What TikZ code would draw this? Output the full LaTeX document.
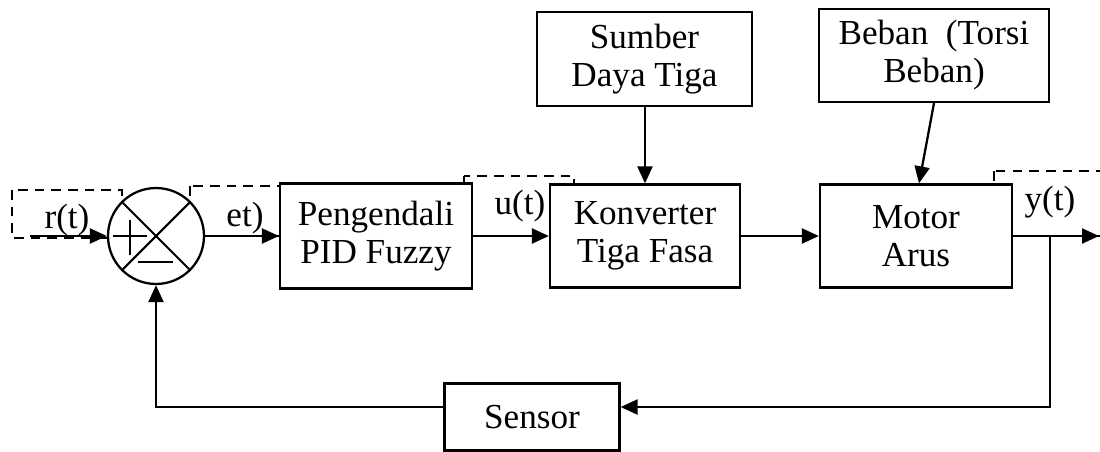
\documentclass[tikz,border=0pt]{standalone}
\usepackage{fontspec}
\setmainfont{Liberation Serif}
\usetikzlibrary{arrows.meta}

\tikzset{
  blok/.style={draw, fill=white, line width=1.3pt, align=center, inner sep=0pt,
    font=\fontsize{20}{21.6}\selectfont},
  sinyal/.style={inner sep=0pt, font=\fontsize{20}{21.6}\selectfont},
  panah/.style={-{Triangle[length=0.34cm,width=0.3cm]}, line width=1.3pt},
  garis/.style={line width=1.2pt},
  kotakputus/.style={line width=1.3pt, dash pattern=on 5.5pt off 4pt}
}

\begin{document}
\begin{tikzpicture}[x=0.02cm,y=-0.02cm]
    % Fixed frame of the picture
    \useasboundingbox (0,0) rectangle (1100,451);

    % Dashed boxes around the signal labels
    \draw[kotakputus] (12,190) rectangle (122,238);
    \draw[kotakputus] (190,186) rectangle (280,236);
    \draw[kotakputus] (464,176) rectangle (574,236);
    \draw[kotakputus] (994,171) rectangle (1110,236);

    % Summing junction
    \node[draw, fill=white, circle, line width=1.3pt, minimum size=1.92cm, inner sep=0pt] (sum) at (156,236) {};
    \draw[garis] (sum.north west) -- (sum.south east);
    \draw[garis] (sum.north east) -- (sum.south west);
    \draw[line width=0.9pt] ([xshift=-0.86cm]sum.center) -- ([xshift=-0.18cm]sum.center);
    \draw[line width=0.9pt] ([xshift=-0.52cm,yshift=0.32cm]sum.center) -- ([xshift=-0.52cm,yshift=-0.38cm]sum.center);
    \draw[line width=0.9pt] ([xshift=-0.36cm,yshift=-0.52cm]sum.center) -- ([xshift=0.34cm,yshift=-0.52cm]sum.center);

    % Main blocks
    \node[blok, minimum width=3.84cm, minimum height=2.1cm] (pid) at (376,236) {Pengendali\\PID Fuzzy};
    \node[blok, minimum width=3.8cm, minimum height=2.06cm] (konv) at (645,236) {Konverter\\Tiga Fasa};
    \node[blok, minimum width=3.84cm, minimum height=2.06cm] (motor) at (916,236) {Motor\\Arus};
    \node[blok, minimum width=4.3cm, minimum height=1.88cm] (sumber) at (644.5,59) {Sumber\\Daya Tiga};
    \node[blok, minimum width=4.6cm, minimum height=1.86cm] (beban) at (934,55.5) {Beban\ \ (Torsi\\Beban)};
    \node[blok, minimum width=3.5cm, minimum height=1.34cm] (sensor) at (532,417) {Sensor};

    % Signal labels
    \node[sinyal] (r) at (67,220) {r(t)};
    \node[sinyal] (e) at (245,218) {et)};
    \node[sinyal] (u) at (520,206) {u(t)};
    \node[sinyal] (y) at (1050,202) {y(t)};

    % Connectors
    \coordinate (masuk) at (30,236);
    \coordinate (keluar) at (1099,236);
    \coordinate (cabang) at (1050,236);
    \draw[panah] (masuk) -- (sum.west);
    \draw[panah] (sum.east) -- (pid.west);
    \draw[panah] (pid.east) -- (konv.west);
    \draw[panah] (konv.east) -- (motor.west);
    \draw[panah] (motor.east) -- (keluar);
    \draw[panah] (konv.north |- sumber.south) -- (konv.north);
    \draw[panah] (beban.south) -- ([xshift=0.06cm]motor.north);

    % Feedback path
    \draw[panah] (cabang) |- ([yshift=0.2cm]sensor.east);
    \draw[panah] ([yshift=0.2cm]sensor.west) -| (sum.south);

\end{tikzpicture}
\end{document}
